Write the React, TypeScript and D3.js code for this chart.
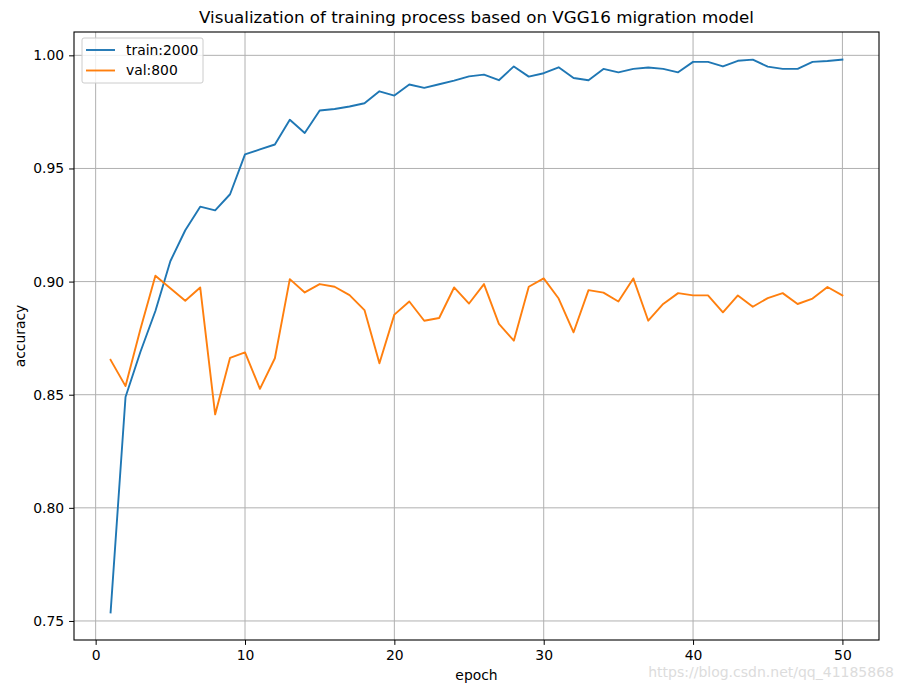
import * as d3 from "d3";
import { useEffect, useRef } from "react";

const epochs = d3.range(1, 51);

const trainAcc = [
  0.7538, 0.849, 0.869, 0.887, 0.909, 0.9227, 0.9331, 0.9315, 0.9386, 0.9562,
  0.9584, 0.9606, 0.9715, 0.9657, 0.9756, 0.9763, 0.9774, 0.9788, 0.9841, 0.9822,
  0.9871, 0.9856, 0.9872, 0.9888, 0.9907, 0.9915, 0.989, 0.9951, 0.9906, 0.9921,
  0.9947, 0.99, 0.989, 0.994, 0.9925, 0.994, 0.9946, 0.994, 0.9925, 0.9971,
  0.9971, 0.9951, 0.9976, 0.9981, 0.995, 0.994, 0.994, 0.9971, 0.9975, 0.9981,
];

const valAcc = [
  0.8654, 0.8538, 0.879, 0.9026, 0.8971, 0.8915, 0.8974, 0.8413, 0.8663, 0.8687,
  0.8526, 0.8661, 0.9011, 0.8952, 0.8989, 0.8977, 0.894, 0.8874, 0.8639, 0.8854,
  0.8912, 0.8827, 0.8839, 0.8974, 0.8903, 0.8989, 0.8813, 0.8739, 0.8977, 0.9014,
  0.8925, 0.8776, 0.8962, 0.8951, 0.8912, 0.9014, 0.8827, 0.8901, 0.8949, 0.8939,
  0.8939, 0.8864, 0.8939, 0.8889, 0.8927, 0.8949, 0.8901, 0.8925, 0.8976, 0.8939,
];

const seriesNames = ["train:2000", "val:800"];
const seriesColors = ["#1f77b4", "#ff7f0e"];
const xTicks = [0, 10, 20, 30, 40, 50];
const yTicks = [0.75, 0.8, 0.85, 0.9, 0.95, 1.0];

const W = 903;
const H = 691;
const margin = { top: 32, right: 24, bottom: 51, left: 74 };
const FONT = "DejaVu Sans, sans-serif";

export default function App() {
  const ref = useRef<SVGSVGElement>(null);

  useEffect(() => {
    const svg = d3.select(ref.current);
    svg.selectAll("*").remove();

    const iw = W - margin.left - margin.right;
    const ih = H - margin.top - margin.bottom;

    // matplotlib style 5% padding
    const xPad = (50 - 1) * 0.05;
    const all = trainAcc.concat(valAcc);
    const yMin = d3.min(all)!;
    const yMax = d3.max(all)!;
    const yPad = (yMax - yMin) * 0.05;

    const x = d3.scaleLinear().domain([1 - xPad, 50 + xPad]).range([0, iw]);
    const y = d3.scaleLinear().domain([yMin - yPad, yMax + yPad]).range([ih, 0]);

    svg.append("rect").attr("width", W).attr("height", H).attr("fill", "#fff");

    const g = svg.append("g").attr("transform", `translate(${margin.left},${margin.top})`);

    // grid
    g.append("g")
      .selectAll("line")
      .data(xTicks)
      .join("line")
        .attr("x1", d => x(d)).attr("x2", d => x(d))
        .attr("y1", 0).attr("y2", ih)
        .attr("stroke", "#b0b0b0").attr("stroke-width", 1);
    g.append("g")
      .selectAll("line")
      .data(yTicks)
      .join("line")
        .attr("y1", d => y(d)).attr("y2", d => y(d))
        .attr("x1", 0).attr("x2", iw)
        .attr("stroke", "#b0b0b0").attr("stroke-width", 1);

    // axes
    const xAxis = d3.axisBottom(x).tickValues(xTicks).tickSize(4.9).tickPadding(4.9).tickFormat(d3.format("d"));
    const yAxis = d3.axisLeft(y).tickValues(yTicks).tickSize(4.9).tickPadding(4.9).tickFormat(d3.format(".2f"));

    const gx = g.append("g").attr("transform", `translate(0,${ih})`).call(xAxis);
    const gy = g.append("g").call(yAxis);
    [gx, gy].forEach(a => {
      a.select(".domain").remove();
      a.selectAll("line").attr("stroke", "#000").attr("stroke-width", 1);
      a.selectAll("text").attr("font-family", FONT).attr("font-size", 13.9).attr("fill", "#000");
    });

    // lines
    const line = d3.line<number>().x((_, i) => x(epochs[i])).y(d => y(d));
    [trainAcc, valAcc].forEach((s, k) => {
      g.append("path")
        .datum(s)
        .attr("d", line)
        .attr("fill", "none")
        .attr("stroke", seriesColors[k])
        .attr("stroke-width", 1.9)
        .attr("stroke-linejoin", "round")
        .attr("stroke-linecap", "square");
    });

    // frame
    g.append("rect")
      .attr("width", iw).attr("height", ih)
      .attr("fill", "none").attr("stroke", "#000").attr("stroke-width", 1.1);

    // legend
    const lg = g.append("g").attr("transform", "translate(8,6)");
    lg.append("rect")
      .attr("width", 121).attr("height", 45).attr("rx", 2)
      .attr("fill", "#fff").attr("fill-opacity", 0.8)
      .attr("stroke", "#cccccc").attr("stroke-width", 1);
    seriesNames.forEach((name, k) => {
      const yy = 12 + k * 20.5;
      lg.append("line")
        .attr("x1", 4).attr("x2", 33).attr("y1", yy).attr("y2", yy)
        .attr("stroke", seriesColors[k]).attr("stroke-width", 1.9);
      lg.append("text")
        .attr("x", 44).attr("y", yy).attr("dy", "0.35em")
        .attr("font-family", FONT).attr("font-size", 13.9)
        .text(name);
    });

    // title & labels
    svg.append("text")
      .attr("x", margin.left + iw / 2).attr("y", 23)
      .attr("text-anchor", "middle")
      .attr("font-family", FONT).attr("font-size", 16.7)
      .text("Visualization of training process based on VGG16 migration model");

    svg.append("text")
      .attr("x", margin.left + iw / 2).attr("y", 680)
      .attr("text-anchor", "middle")
      .attr("font-family", FONT).attr("font-size", 13.9)
      .text("epoch");

    svg.append("text")
      .attr("transform", `translate(25,${margin.top + ih / 2}) rotate(-90)`)
      .attr("text-anchor", "middle")
      .attr("font-family", FONT).attr("font-size", 13.9)
      .text("accuracy");

    // watermark
    svg.append("text")
      .attr("x", 894).attr("y", 677)
      .attr("text-anchor", "end")
      .attr("font-family", FONT).attr("font-size", 14)
      .attr("fill", "#dcdcdc")
      .text("https://blog.csdn.net/qq_41185868");
  }, []);

  return (
    <svg
      ref={ref}
      width={W}
      height={H}
      style={{ display: "block", position: "absolute", left: 0, top: 0 }}
    />
  );
}
